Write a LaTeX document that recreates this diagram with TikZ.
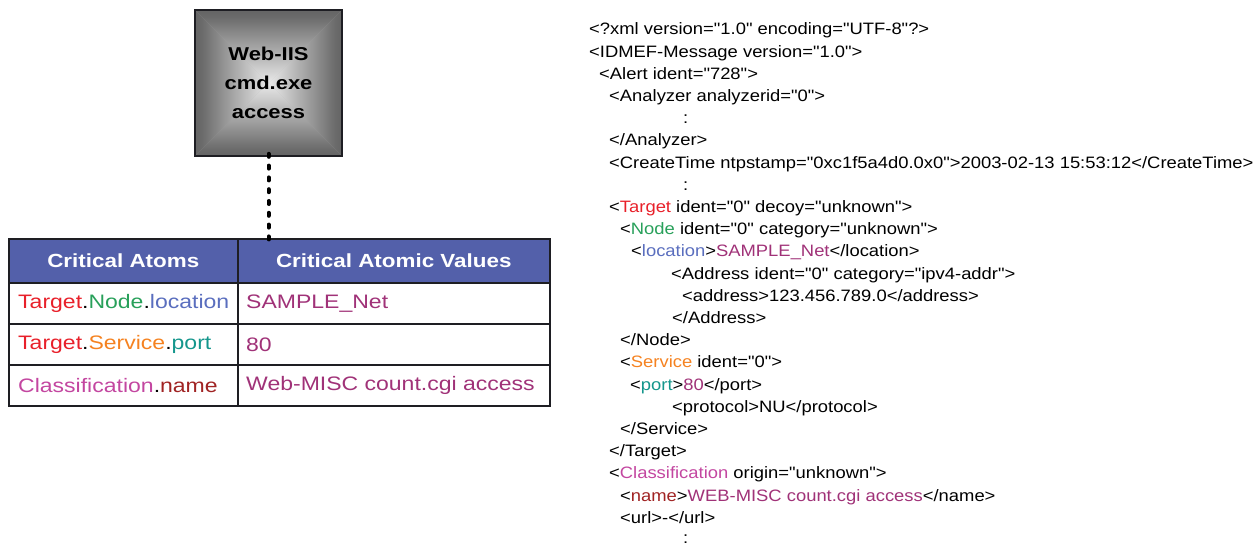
\documentclass[tikz,border=0pt]{standalone}
\usepackage{fontspec}
\usetikzlibrary{backgrounds}
\setmainfont{Liberation Sans}
\newfontfamily\tabfont[FakeStretch=1.18]{Liberation Sans}
\newfontfamily\xmlfont[FakeStretch=1.115]{Liberation Sans}
\definecolor{tgtred}{RGB}{232,32,42}
\definecolor{nodegreen}{RGB}{40,160,90}
\definecolor{locblue}{RGB}{90,110,190}
\definecolor{svcorange}{RGB}{245,130,32}
\definecolor{portteal}{RGB}{20,150,140}
\definecolor{clspink}{RGB}{195,70,160}
\definecolor{namered}{RGB}{160,35,35}
\definecolor{valpurple}{RGB}{160,50,120}
\definecolor{hdrblue}{RGB}{83,96,170}
\definecolor{edge}{RGB}{30,30,35}
\definecolor{bevdark}{RGB}{72,72,72}
\definecolor{bevlight}{RGB}{242,242,242}
\pgfdeclareverticalshading{bevel}{100bp}{color(0bp)=(bevlight); color(22bp)=(bevlight); color(70bp)=(bevdark!80!bevlight); color(100bp)=(bevdark)}
\tikzset{
  gbox/.style={draw=edge, line width=1.6pt, rectangle, minimum width=147pt, minimum height=146pt,
    align=center, font=\tabfont\bfseries\fontsize{18.6}{29}\selectfont},
  conn/.style={line width=4pt, line cap=round, dash pattern=on 3pt off 8.8pt, black},
  hcell/.style={draw=edge, line width=1.6pt, fill=hdrblue, text=white, anchor=north west,
    minimum height=44pt, inner sep=0pt, align=center,
    font=\tabfont\bfseries\fontsize{19}{22}\selectfont},
  cell/.style={draw=edge, line width=1.6pt, anchor=north west, minimum height=41pt, inner sep=0pt},
  ctext/.style={anchor=west, inner sep=0pt, font=\tabfont\fontsize{19.5}{22}\selectfont},
  xl/.style={anchor=base west, inner sep=0pt, font=\xmlfont\fontsize{16.5}{20}\selectfont}
}
\begin{document}
\begin{tikzpicture}[x=1pt,y=-1pt]
\useasboundingbox (0,0) rectangle (1257,546);
% rule box
\node[gbox] (box) at (268.5,83) {Web-IIS\\cmd.exe\\access};
\begin{scope}[on background layer]
  \fill[bevdark!45!bevlight] (box.north west) rectangle (box.south east);
  \shade[shading=bevel] (box.north west) -- (box.north east) -- (box.center) -- cycle;
  \shade[shading=bevel, shading angle=180] (box.south west) -- (box.south east) -- (box.center) -- cycle;
  \shade[shading=bevel, shading angle=90] (box.north west) -- (box.south west) -- (box.center) -- cycle;
  \shade[shading=bevel, shading angle=-90] (box.north east) -- (box.south east) -- (box.center) -- cycle;
\end{scope}
% table
\node[hcell, minimum width=229pt] (h1) at (8,238) {Critical Atoms};
\node[hcell, minimum width=312pt] (h2) at (237,238) {Critical Atomic Values};
\node[cell, minimum width=229pt] (c11) at (8,282) {};
\node[cell, minimum width=312pt] (c12) at (237,282) {};
\node[cell, minimum width=229pt] (c21) at (8,323) {};
\node[cell, minimum width=312pt] (c22) at (237,323) {};
\node[cell, minimum width=229pt] (c31) at (8,364) {};
\node[cell, minimum width=312pt] (c32) at (237,364) {};
\node[ctext] (t11) at ([xshift=10pt]c11.west) {\textcolor{tgtred}{Target}.\textcolor{nodegreen}{Node}.\textcolor{locblue}{location}};
\node[ctext] (t12) at ([xshift=9pt]c12.west) {\textcolor{valpurple}{SAMPLE\_Net}};
\node[ctext] (t21) at ([xshift=10pt]c21.west) {\textcolor{tgtred}{Target}.\textcolor{svcorange}{Service}.\textcolor{portteal}{port}};
\node[ctext] (t22) at ([xshift=9pt]c22.west) {\textcolor{valpurple}{80}};
\node[ctext] (t31) at ([xshift=10pt]c31.west) {\textcolor{clspink}{Classification}.\textcolor{namered}{name}};
\node[ctext] (t32) at ([xshift=9pt]c32.west) {\textcolor{valpurple}{Web-MISC count.cgi access}};
% connector
\draw[conn] ([yshift=3pt]box.south) -- ([yshift=-2pt]box.south |- h2.north);
% XML
\node[xl] (x1) at (589,34.8) {<?xml version="1.0" encoding="UTF-8"?>};
\node[xl] (x2) at (589,57.0) {<IDMEF-Message version="1.0">};
\node[xl] (x3) at (599,79.2) {<Alert ident="728">};
\node[xl] (x4) at (609,101.4) {<Analyzer analyzerid="0">};
\node[xl] (x5) at (683,123.6) {:};
\node[xl] (x6) at (609,145.8) {</Analyzer>};
\node[xl] (x7) at (609,168.0) {<CreateTime ntpstamp="0xc1f5a4d0.0x0">2003-02-13 15:53:12</CreateTime>};
\node[xl] (x8) at (683,190.2) {:};
\node[xl] (x9) at (609,212.4) {<\textcolor{tgtred}{Target} ident="0" decoy="unknown">};
\node[xl] (x10) at (620,234.6) {<\textcolor{nodegreen}{Node} ident="0" category="unknown">};
\node[xl] (x11) at (631,256.8) {<\textcolor{locblue}{location}>\textcolor{valpurple}{SAMPLE\_Net}</location>};
\node[xl] (x12) at (671,279.0) {<Address ident="0" category="ipv4-addr">};
\node[xl] (x13) at (682,301.2) {<address>123.456.789.0</address>};
\node[xl] (x14) at (672,323.4) {</Address>};
\node[xl] (x15) at (620,345.6) {</Node>};
\node[xl] (x16) at (620,367.8) {<\textcolor{svcorange}{Service} ident="0">};
\node[xl] (x17) at (630,390.0) {<\textcolor{portteal}{port}>\textcolor{valpurple}{80}</port>};
\node[xl] (x18) at (672,412.2) {<protocol>NU</protocol>};
\node[xl] (x19) at (620,434.4) {</Service>};
\node[xl] (x20) at (609,456.6) {</Target>};
\node[xl] (x21) at (609,478.8) {<\textcolor{clspink}{Classification} origin="unknown">};
\node[xl] (x22) at (620,501.0) {<\textcolor{namered}{name}>\textcolor{valpurple}{WEB-MISC count.cgi access}</name>};
\node[xl] (x23) at (620,523.2) {<url>-</url>};
\node[xl] (x24) at (683,543.5) {:};
\end{tikzpicture}
\end{document}
